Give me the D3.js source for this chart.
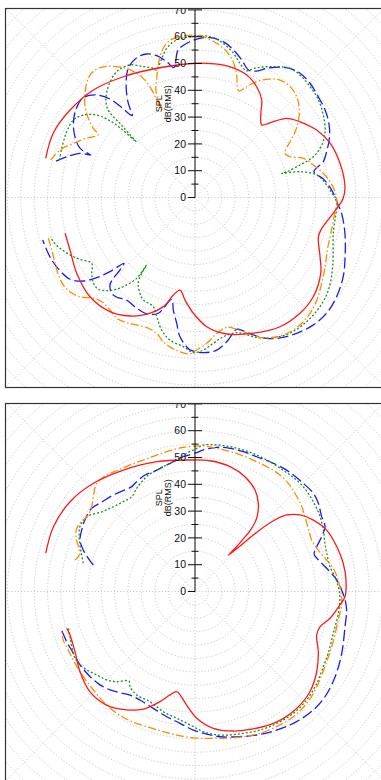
<!DOCTYPE html>
<html>
<head>
<meta charset="utf-8">
<script src="https://cdn.jsdelivr.net/npm/d3@7"></script>
<style>
	body { margin: 0; background: #fff; }
	svg { display: block; font-family: "Liberation Sans", Arial, sans-serif; }
	.ring, .spoke { fill: none; stroke: #c4c4c4; stroke-width: 0.9; stroke-dasharray: 1.2, 2; }
	.frame { fill: none; stroke: #333; stroke-width: 1.2; }
	.trace { fill: none; stroke-width: 1.3; }
	.axis-line { stroke: #111; stroke-width: 1; }
	.tick-label { font-size: 10.5px; fill: #111; }
	.axis-title { font-size: 9px; fill: #111; }
</style>
</head>
<body>
<svg id="chart" width="381" height="780"></svg>
<script>
// angles in degrees, clockwise from 12 o'clock; values in dB(RMS)
const radialTicks = [0, 10, 20, 30, 40, 50, 60, 70];
const minorTicks = [5, 15, 25, 35, 45, 55, 65];
const ringValues = [5, 10, 15, 20, 25, 30, 35, 40, 45, 50, 55, 60, 65, 70, 75, 80, 85, 90, 95, 100, 105];
const spokeAngles = [0, 45, 90, 135, 180, 225, 270, 315];
const axisTitle = ['SPL', 'dB(RMS)'];

const topRed = [[-75.3,57.6],[-65.6,58.1],[-55.0,56.9],[-43.4,55.2],[-30.7,52.4],[-16.5,50.3],[0.7,50.1],[13.6,50.5],[22.9,49.6],[29.1,47.3],[34.4,44.1],[38.0,39.9],[42.6,36.8],[45.1,39.5],[49.2,45.2],[54.2,48.3],[61.0,51.9],[68.1,54.3],[76.7,55.6],[85.9,56.1],[90.3,55.3],[96.5,51.9],[103.7,48.7],[107.6,48.3],[115.3,51.6],[121.1,54.8],[130.0,57.6],[137.8,58.3],[146.7,57.7],[156.8,55.1],[166.9,52.3],[174.8,48.4],[180.8,43.2],[185.6,38.4],[189.2,35.0],[192.5,37.3],[196.2,42.4],[202.5,47.1],[208.7,50.4],[216.7,53.1],[226.6,53.9],[237.4,52.4],[247.2,50.6],[254.6,50.3]];

const topOrange = [[-75.4,55.6],[-70.6,53.4],[-66.0,49.7],[-61.3,46.1],[-57.1,43.0],[-55.8,45.9],[-53.4,49.6],[-50.0,53.6],[-46.1,56.9],[-41.8,59.7],[-38.1,60.5],[-34.5,59.3],[-30.9,56.9],[-27.9,54.5],[-25.1,51.2],[-23.1,47.6],[-21.9,43.2],[-21.4,39.1],[-20.8,34.9],[-20.2,42.1],[-17.8,46.7],[-15.5,51.3],[-12.9,55.8],[-9.7,59.0],[-5.9,60.3],[0.6,60.6],[3.0,60.1],[8.0,58.1],[12.3,55.7],[15.7,52.6],[18.8,48.3],[21.2,43.7],[22.6,43.0],[25.0,45.6],[28.0,49.0],[32.3,52.3],[35.9,54.1],[40.6,54.5],[45.3,53.4],[49.5,51.2],[53.7,47.8],[56.7,44.7],[59.6,41.1],[63.8,37.4],[66.8,38.6],[70.1,43.0],[74.6,45.8],[79.3,48.7],[83.3,50.7],[87.6,52.3],[91.7,52.9],[99.2,52.3],[106.2,52.5],[111.6,53.1],[118.0,55.0],[124.1,57.1],[130.1,59.4],[135.2,60.9],[140.5,61.6],[146.0,61.2],[150.7,59.8],[155.1,57.5],[158.1,54.9],[160.2,53.2],[162.4,51.6],[164.9,50.2],[166.3,49.9],[168.6,50.4],[171.7,51.8],[175.4,54.6],[179.4,56.9],[181.8,58.4],[185.6,57.8],[189.5,56.5],[192.4,55.1],[195.7,52.7],[199.6,51.8],[204.6,52.3],[208.6,53.2],[212.9,53.7],[217.1,52.6],[221.8,52.2],[225.3,53.4],[229.2,56.7],[233.0,58.4],[236.4,59.0],[240.4,58.6],[244.8,57.7],[249.9,56.9],[254.5,56.8]];

const topGreen = [[-74.6,52.5],[-69.7,53.0],[-62.8,53.8],[-57.5,53.8],[-53.6,51.8],[-50.0,47.9],[-48.0,42.9],[-47.0,37.2],[-46.6,30.2],[-45.5,38.0],[-44.4,46.8],[-39.2,51.8],[-31.9,55.3],[-26.1,55.1],[-21.6,52.5],[-17.9,50.7],[-17.0,49.7],[-10.7,56.7],[-6.6,59.2],[-1.8,60.0],[5.3,60.3],[10.4,58.5],[14.9,55.7],[18.5,52.8],[21.4,51.1],[22.2,51.0],[25.4,53.6],[30.9,56.9],[36.3,59.8],[40.6,60.2],[46.1,59.6],[51.7,58.7],[57.3,56.9],[63.2,54.4],[67.5,51.2],[71.0,46.7],[72.8,41.0],[74.3,35.6],[74.4,33.6],[76.2,40.3],[79.5,46.2],[84.6,49.4],[89.0,51.6],[91.0,52.9],[104.5,53.3],[116.7,57.5],[124.8,60.6],[131.1,61.9],[138.0,62.3],[145.0,61.8],[152.0,59.5],[157.3,56.3],[161.6,53.2],[164.2,52.6],[168.5,53.0],[172.8,54.8],[176.9,57.0],[180.6,57.9],[184.5,55.8],[190.0,54.0],[194.1,51.0],[197.8,46.7],[200.9,43.6],[206.8,42.8],[209.9,41.2],[213.5,38.4],[215.1,34.6],[215.6,31.0],[215.8,37.2],[218.0,41.4],[220.5,45.0],[223.5,47.9],[226.5,49.7],[229.8,49.6],[233.7,47.8],[237.5,45.7],[241.7,48.7],[245.3,51.3],[249.4,53.8],[252.7,55.4],[254.8,55.8]];

const topBlue = [[-75.3,53.6],[-72.4,50.2],[-69.0,46.0],[-67.8,42.0],[-66.8,46.7],[-61.5,51.4],[-54.4,55.0],[-48.2,55.9],[-43.8,53.0],[-40.8,48.5],[-39.2,43.3],[-37.5,38.5],[-35.3,43.1],[-31.5,49.2],[-27.3,54.3],[-22.6,56.5],[-18.6,56.5],[-15.1,54.8],[-11.8,51.8],[-9.2,49.1],[-6.5,55.4],[-1.8,58.2],[1.8,59.4],[5.4,59.9],[10.3,59.1],[14.6,56.9],[18.8,54.2],[22.7,51.6],[25.4,52.2],[30.0,55.9],[35.2,59.3],[40.2,60.7],[45.2,60.5],[50.7,59.4],[56.1,58.5],[61.6,56.9],[66.2,54.8],[70.8,52.0],[74.4,49.7],[77.8,45.4],[81.8,48.4],[86.9,51.1],[91.7,52.9],[96.1,55.0],[103.4,57.5],[111.5,60.2],[118.1,62.7],[125.0,64.5],[131.3,65.4],[137.1,64.9],[143.2,63.3],[148.8,61.2],[153.0,59.0],[157.0,55.7],[160.1,52.9],[162.4,51.6],[167.6,55.1],[171.9,57.5],[176.9,58.0],[181.9,56.9],[183.2,55.8],[186.2,52.2],[188.3,47.4],[190.9,42.8],[192.9,39.0],[197.6,45.3],[202.5,47.0],[207.8,46.7],[213.7,46.0],[218.1,47.3],[221.0,47.4],[224.2,45.5],[225.3,42.9],[226.0,38.9],[227.2,36.1],[228.9,42.1],[230.8,47.3],[233.2,52.0],[236.8,55.7],[241.5,57.3],[246.4,58.3],[250.5,58.7],[254.4,59.0]];

const botRed = [[-75.6,57.5],[-65.4,58.1],[-54.3,57.4],[-43.2,55.4],[-30.5,52.6],[-16.4,50.5],[-2.2,49.1],[6.5,49.1],[15.7,48.4],[23.5,46.7],[30.6,44.0],[35.7,40.5],[40.1,35.7],[42.0,31.2],[42.6,26.3],[42.8,22.4],[42.6,18.4],[44.7,23.9],[45.9,30.3],[47.5,38.0],[50.2,44.6],[53.9,48.5],[58.9,51.6],[65.0,54.2],[72.5,55.5],[79.2,56.3],[85.6,56.5],[92.0,56.0],[95.3,54.3],[101.2,51.4],[105.7,48.5],[109.7,48.2],[116.0,51.2],[123.4,54.4],[131.1,56.9],[139.0,57.8],[147.9,57.4],[157.0,55.7],[164.6,54.0],[172.4,51.5],[179.2,47.3],[184.2,42.5],[188.2,39.0],[190.4,38.0],[193.6,39.7],[197.6,43.1],[203.7,47.9],[210.0,51.0],[217.9,53.7],[226.3,54.2],[235.1,52.3],[243.4,50.1],[250.8,49.4],[254.0,49.8]];

const botOrange = [[-75.3,46.3],[-72.5,45.3],[-69.0,46.6],[-65.3,48.9],[-61.9,50.0],[-58.4,49.7],[-54.4,49.0],[-50.6,49.9],[-47.0,51.9],[-42.3,54.5],[-37.2,54.5],[-32.3,53.6],[-27.2,53.1],[-21.5,52.7],[-15.7,52.9],[-10.1,53.4],[-4.6,54.0],[0.7,54.3],[3.3,54.4],[8.6,54.0],[14.1,53.8],[19.6,53.7],[25.4,53.6],[31.3,53.8],[36.1,53.8],[40.8,53.3],[46.3,52.1],[51.5,50.9],[55.8,49.6],[60.8,48.4],[66.2,47.6],[71.4,48.5],[76.5,50.5],[80.5,52.3],[85.4,53.6],[90.1,54.4],[94.6,54.9],[101.2,54.5],[112.0,55.0],[120.0,56.0],[128.0,57.7],[135.0,59.0],[141.9,59.4],[148.9,58.9],[155.4,58.2],[161.6,57.1],[167.8,56.0],[174.2,55.1],[180.7,54.6],[187.3,54.0],[192.7,53.6],[199.7,53.6],[206.7,54.0],[212.7,54.0],[219.8,53.5],[225.9,52.8],[232.7,52.4],[239.1,52.2],[245.2,52.1],[249.8,52.4],[253.2,51.9]];

const botGreen = [[-75.8,43.0],[-70.0,45.4],[-64.7,47.8],[-60.6,49.3],[-57.2,49.3],[-54.7,48.8],[-49.5,45.8],[-43.9,43.9],[-38.6,42.9],[-33.7,42.5],[-29.5,44.2],[-25.9,45.5],[-21.8,46.8],[-17.5,47.5],[-12.6,48.4],[-7.9,49.5],[-3.4,51.7],[0.7,53.4],[3.2,54.7],[8.4,55.3],[13.6,55.6],[18.8,55.8],[24.3,55.9],[30.0,55.9],[34.6,55.9],[39.2,56.1],[44.1,56.3],[49.1,55.9],[54.2,55.2],[59.1,54.4],[64.4,53.1],[69.7,51.7],[73.8,51.2],[79.6,51.2],[84.0,52.5],[88.1,53.5],[92.1,54.1],[98.7,54.1],[106.8,53.9],[114.9,54.8],[120.4,55.5],[127.0,56.9],[134.2,58.1],[141.1,58.4],[148.2,57.9],[154.9,57.1],[161.2,55.9],[166.3,55.1],[171.4,54.1],[176.6,52.4],[182.1,49.8],[188.2,47.8],[194.8,46.4],[202.2,44.4],[209.4,44.3],[214.3,43.0],[216.4,41.5],[221.0,44.6],[224.9,46.6],[229.7,48.1],[234.1,49.9],[237.4,50.9],[240.9,51.2],[245.9,50.4],[250.1,49.6],[254.2,49.1]];

const botBlue = [[-75.4,39.2],[-72.7,41.7],[-69.6,44.5],[-65.9,47.0],[-61.5,48.1],[-57.0,49.0],[-51.2,49.5],[-46.2,48.2],[-40.3,47.2],[-33.8,45.9],[-31.1,45.7],[-28.0,46.4],[-23.2,47.3],[-19.2,47.3],[-14.3,48.0],[-9.5,49.1],[-5.0,50.5],[0.7,51.8],[3.4,52.9],[8.6,54.4],[13.7,55.0],[19.1,55.2],[24.6,55.3],[30.0,55.9],[35.6,56.6],[40.2,56.9],[45.0,57.1],[50.3,57.4],[54.4,56.6],[59.4,54.9],[63.5,54.2],[66.6,51.5],[69.8,48.4],[72.5,46.6],[74.7,47.1],[78.3,48.9],[81.7,50.9],[85.4,53.1],[89.4,54.7],[93.2,56.1],[97.0,57.0],[103.2,57.5],[112.8,59.4],[121.3,61.2],[129.0,62.4],[135.0,62.5],[142.0,61.6],[149.5,60.0],[156.7,58.3],[164.0,56.4],[170.2,55.0],[175.3,53.4],[180.7,51.7],[186.5,49.5],[192.7,47.9],[199.6,46.3],[206.9,45.4],[212.1,45.6],[216.5,47.0],[220.8,48.5],[225.5,49.7],[230.9,50.4],[237.4,50.9],[243.1,50.9],[248.6,51.4],[253.9,51.8]];

const traceStyles = {
	blue: { color: '#1a1aff', dash: '11,4' },
	green: { color: '#1f8f1f', dash: '2,2' },
	orange: { color: '#ff8c00', dash: '8,2.5,1.5,2.5' },
	red: { color: '#ff1a1a', dash: null },
};

const plots = [
	{ id: 'top', cx: 195, cy: 197.5, frameX: 5.5, frameY: 8.5, frameW: 382, frameH: 379,
		traces: { blue: topBlue, green: topGreen, orange: topOrange, red: topRed } },
	{ id: 'bot', cx: 195, cy: 591.5, frameX: 5.5, frameY: 403.5, frameW: 382, frameH: 400,
		traces: { blue: botBlue, green: botGreen, orange: botOrange, red: botRed } },
];

const svg = d3.select('#chart');
const defs = svg.append('defs');
const rScale = d3.scaleLinear().domain([0, 70]).range([0, 187.6]);
const rad = (deg) => deg * Math.PI / 180;

function drawPolar(p) {
	defs.append('clipPath')
		.attr('id', `clip-${p.id}`)
		.append('rect')
		.attr('x', p.frameX)
		.attr('y', p.frameY)
		.attr('width', p.frameW)
		.attr('height', p.frameH);

	const outer = svg.append('g').attr('clip-path', `url(#clip-${p.id})`);
	const g = outer.append('g').attr('transform', `translate(${p.cx},${p.cy})`);

	g.selectAll('circle.ring').data(ringValues).enter().append('circle')
		.attr('class', 'ring')
		.attr('r', (d) => rScale(d));

	g.selectAll('line.spoke').data(spokeAngles).enter().append('line')
		.attr('class', 'spoke')
		.attr('x1', 0)
		.attr('y1', 0)
		.attr('x2', (d) => rScale(110) * Math.sin(rad(d)))
		.attr('y2', (d) => -rScale(110) * Math.cos(rad(d)));

	const line = d3.lineRadial()
		.angle((d) => rad(d[0]))
		.radius((d) => rScale(d[1]))
		.curve(d3.curveCatmullRom);

	for (const name of ['blue', 'green', 'orange', 'red']) {
		const style = traceStyles[name];
		g.append('path')
			.attr('class', 'trace')
			.attr('d', line(p.traces[name]))
			.attr('stroke', style.color)
			.attr('stroke-dasharray', style.dash);
	}

	// radial axis
	const axis = g.append('g');
	axis.append('line')
		.attr('class', 'axis-line')
		.attr('x1', 0).attr('y1', 0)
		.attr('x2', 0).attr('y2', -rScale(70));
	axis.selectAll('line.major').data(radialTicks).enter().append('line')
		.attr('class', 'axis-line')
		.attr('x1', -7)
		.attr('x2', (d) => d === 0 ? 0 : 7)
		.attr('y1', (d) => -rScale(d))
		.attr('y2', (d) => -rScale(d));
	axis.selectAll('line.minor').data(minorTicks).enter().append('line')
		.attr('class', 'axis-line')
		.attr('x1', -3.5)
		.attr('x2', 3.5)
		.attr('y1', (d) => -rScale(d))
		.attr('y2', (d) => -rScale(d));
	axis.selectAll('text.tick-label').data(radialTicks).enter().append('text')
		.attr('class', 'tick-label')
		.attr('x', -9)
		.attr('y', (d) => -rScale(d))
		.attr('dy', '0.36em')
		.attr('text-anchor', 'end')
		.text((d) => d);

	axis.selectAll('text.axis-title').data(axisTitle).enter().append('text')
		.attr('class', 'axis-title')
		.attr('text-anchor', 'middle')
		.attr('transform', (d, i) => `translate(${i === 0 ? -33 : -24},${-rScale(35)}) rotate(-90)`)
		.text((d) => d);

	svg.append('rect')
		.attr('class', 'frame')
		.attr('x', p.frameX)
		.attr('y', p.frameY)
		.attr('width', p.frameW)
		.attr('height', p.frameH);
}

plots.forEach(drawPolar);
</script>
</body>
</html>
